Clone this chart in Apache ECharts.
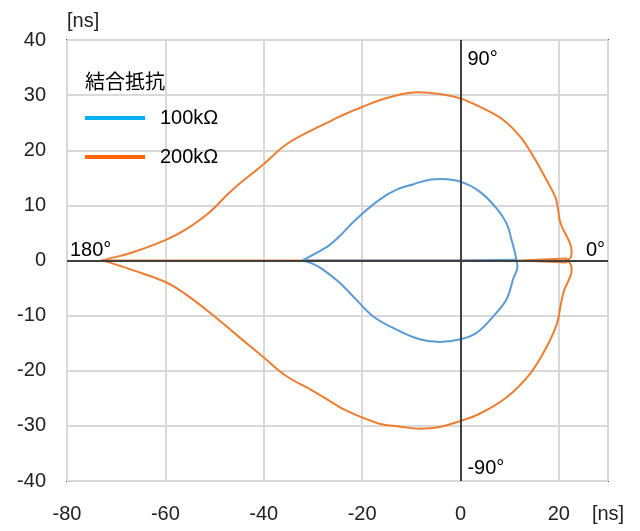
<!DOCTYPE html>
<html>
<head>
<meta charset="utf-8">
<script src="https://cdn.jsdelivr.net/npm/echarts@6/dist/echarts.min.js"></script>
<style>html,body{margin:0;padding:0;background:#fff}#c{width:640px;height:531px}</style>
</head>
<body>
<div id="c"></div>
<script>
// ---- data ----
const legendTitle = '結合抵抗';
const seriesNames = ['100kΩ', '200kΩ'];
const xTicks = { min: -80, max: 30, interval: 20 };
const yTicks = { min: -40, max: 40, interval: 10 };
const axisUnit = '[ns]';
const annoTexts = ['90°', '-90°', '180°', '0°'];
const annoCoords = [[0, 40], [0, -40], [-80, 0], [30, 0]];

const r200Upper = [[-73,0],[-71.6,0.3],[-66.9,1.4],[-60,3.7],[-55.9,5.6],[-51.2,8.6],[-46.4,12.8],[-40.1,17.4],[-35.5,21],[-30.1,23.7],[-26.6,25.2],[-24.6,26.1],[-19.9,27.9],[-14.4,29.6],[-8.7,30.5],[-4.2,30.2],[0,29.4],[3.9,27.9],[8.7,25.5],[12.1,22.5],[14.8,18.9],[17.5,14.6],[19.3,11.5],[19.8,9.5],[20.2,7.2],[20.9,5.6],[22,3.7],[22.6,1.9],[22.5,0.7],[21.6,0]];
const r200Lower = [[21.6,0],[22.5,-0.8],[22.6,-1.8],[21.9,-3.8],[21.1,-5.3],[20.4,-8],[19.6,-11.5],[17.5,-15.7],[14.1,-20.6],[9.4,-24.8],[3.9,-27.8],[0,-29.1],[-4.2,-30.2],[-8.3,-30.5],[-12.5,-30.1],[-16.5,-29.6],[-23.3,-27.2],[-26.7,-25.4],[-30.1,-23.6],[-35.5,-20.9],[-40.1,-17.5],[-45,-13.9],[-49.8,-10.3],[-55.9,-6.1],[-60,-3.9],[-66.8,-1.7],[-71.6,-0.3],[-73,0]];
const r200Axis = [[-73,0],[12,0],[21.6,0.35],[21.6,-0.35],[12,0]];

const r100Upper = [[-32.1,0],[-30,1],[-28,2],[-26.6,2.8],[-24.6,4.4],[-21.2,7.5],[-16.5,11],[-13.1,12.8],[-9.7,13.8],[-6,14.7],[-3.9,14.8],[0,14.3],[3.9,12.5],[7.3,9.5],[9.4,6.7],[10.4,3.7],[11.1,1.3],[11.4,0]];
const r100Lower = [[11.4,0],[11.6,-1],[10.7,-3.4],[9.4,-7],[6.7,-10.1],[3.3,-13.1],[0,-14.3],[-4.2,-14.8],[-8.3,-14.3],[-13.1,-12.5],[-17.8,-10.1],[-21.2,-7.1],[-24.6,-4],[-28,-1.6],[-30,-0.6],[-32.1,0]];
const r100Axis = [[-32.1,0],[0,0],[11.4,0.15],[11.4,-0.15],[0,0]];

// ---- chart ----
const FONT = "'Liberation Sans', Arial, 'Noto Sans CJK JP', sans-serif";
const COLORS = ['#5b9bd5', '#ed7d31'];
const chart = echarts.init(document.getElementById('c'), null, { renderer: 'canvas' });

const annoLabel = [
  { position: 'right', offset: [2, 19] },
  { position: 'right', offset: [2, -13] },
  { position: 'right', offset: [-2, -10] },
  { position: 'left', offset: [2, -10] }
];

function lineSeries(name, data, color, smooth, z) {
  return {
    name: name, type: 'line', showSymbol: false, symbol: 'none',
    data: data, smooth: smooth,
    lineStyle: { color: color, width: 2 }, itemStyle: { color: color },
    z: z
  };
}

const series = [
  lineSeries(seriesNames[1], r200Axis, COLORS[1], false, 3),
  lineSeries(seriesNames[1], r200Upper, COLORS[1], 0.4, 3),
  lineSeries(seriesNames[1], r200Lower, COLORS[1], 0.4, 3),
  lineSeries(seriesNames[0], r100Axis, COLORS[0], false, 4),
  lineSeries(seriesNames[0], r100Upper, COLORS[0], 0.4, 4),
  lineSeries(seriesNames[0], r100Lower, COLORS[0], 0.4, 4)
];
series[0].markLine = {
  silent: true, symbol: 'none', animation: false,
  lineStyle: { color: '#404040', width: 2, type: 'solid' },
  label: { show: false },
  data: [{ xAxis: 0 }, { yAxis: 0 }]
};
series[0].markPoint = {
  silent: true, symbol: 'circle', symbolSize: 0,
  data: annoTexts.map((t, i) => ({
    coord: annoCoords[i],
    label: Object.assign({ show: true, formatter: t, fontSize: 20, color: '#000', fontFamily: FONT, distance: 5 }, annoLabel[i])
  }))
};

chart.setOption({
  animation: false,
  backgroundColor: '#ffffff',
  textStyle: { fontFamily: FONT },
  title: {
    text: legendTitle, left: 85, top: 71, padding: 0,
    textStyle: { fontSize: 20, fontWeight: 'normal', color: '#000', fontFamily: "'Noto Sans CJK JP', sans-serif" }
  },
  legend: {
    orient: 'vertical', left: 85, top: 108, itemGap: 19, padding: 0,
    itemWidth: 60, itemHeight: 4, icon: 'rect',
    textStyle: { fontSize: 20, color: '#000', fontFamily: FONT, padding: [0, 0, 0, 10] },
    data: [
      { name: seriesNames[0], itemStyle: { color: '#00b0f0' } },
      { name: seriesNames[1], itemStyle: { color: '#ff6600' } }
    ]
  },
  grid: { left: 67, top: 40, right: 32, bottom: 50, show: true, borderColor: '#595959', borderWidth: 2 },
  xAxis: {
    type: 'value', min: xTicks.min, max: xTicks.max, interval: xTicks.interval,
    axisLine: { show: false, onZero: false }, axisTick: { show: false },
    splitLine: { show: true, lineStyle: { color: '#d9d9d9', width: 2 } },
    axisLabel: { fontSize: 20, color: '#222', margin: 23, fontFamily: FONT,
      formatter: v => (v === xTicks.max ? axisUnit : String(v)) }
  },
  yAxis: {
    type: 'value', min: yTicks.min, max: yTicks.max, interval: yTicks.interval,
    name: axisUnit, nameLocation: 'end', nameGap: 9,
    nameTextStyle: { fontSize: 20, color: '#222', align: 'left', verticalAlign: 'bottom', fontFamily: FONT },
    axisLine: { show: false, onZero: false }, axisTick: { show: false },
    splitLine: { show: true, lineStyle: { color: '#d9d9d9', width: 2 } },
    axisLabel: { fontSize: 20, color: '#222', margin: 21, fontFamily: FONT }
  },
  series: series
});
</script>
</body>
</html>
